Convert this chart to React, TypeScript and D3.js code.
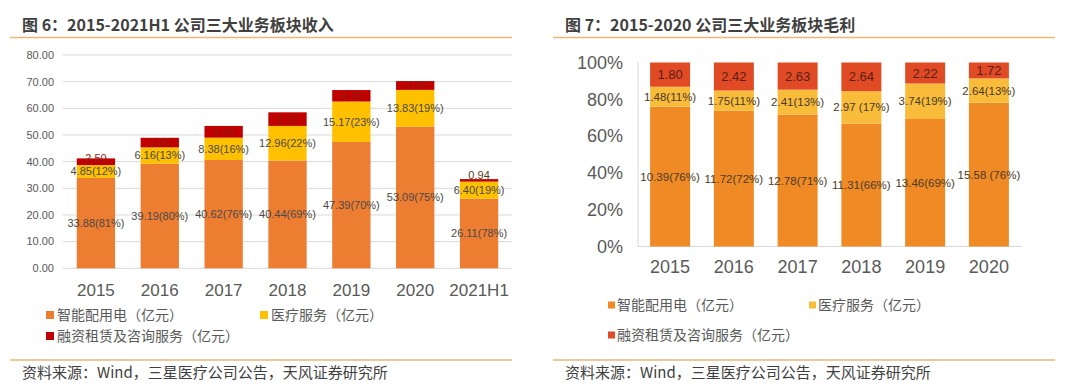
import React from "react";
import * as d3 from "d3";

// 图6：收入（亿元）
const revYears = ["2015", "2016", "2017", "2018", "2019", "2020", "2021H1"];
const revPower = [33.88, 39.19, 40.62, 40.44, 47.39, 53.09, 26.11];
const revMedical = [4.85, 6.16, 8.38, 12.96, 15.17, 13.83, 6.4];
const revLease = [2.5, 3.6, 4.4, 5.1, 4.3, 3.3, 0.94];
const revPowerLabels = ["33.88(81%)", "39.19(80%)", "40.62(76%)", "40.44(69%)", "47.39(70%)", "53.09(75%)", "26.11(78%)"];
const revMedicalLabels = ["4.85(12%)", "6.16(13%)", "8.38(16%)", "12.96(22%)", "15.17(23%)", "13.83(19%)", "6.40(19%)"];
const revTicks = [0, 10, 20, 30, 40, 50, 60, 70, 80];

// 图7：毛利（亿元）
const gpYears = ["2015", "2016", "2017", "2018", "2019", "2020"];
const gpPower = [10.39, 11.72, 12.78, 11.31, 13.46, 15.58];
const gpMedical = [1.48, 1.75, 2.41, 2.97, 3.74, 2.64];
const gpLease = [1.8, 2.42, 2.63, 2.64, 2.22, 1.72];
const gpPowerLabels = ["10.39(76%)", "11.72(72%)", "12.78(71%)", "11.31(66%)", "13.46(69%)", "15.58 (76%)"];
const gpMedicalLabels = ["1.48(11%)", "1.75(11%)", "2.41(13%)", "2.97 (17%)", "3.74(19%)", "2.64(13%)"];
const gpTicks = [0, 0.2, 0.4, 0.6, 0.8, 1];

const seriesNames = ["智能配用电（亿元）", "医疗服务（亿元）", "融资租赁及咨询服务（亿元）"];

const FONT = "'Liberation Sans', Arial, 'Noto Sans CJK SC', sans-serif";
const CJK = "'Noto Sans CJK SC', 'Liberation Sans', sans-serif";
const GREY = "#595959";
const LINE = "#e9b877";

function Frame({ x0, x1, title }: { x0: number; x1: number; title: string }) {
  return (
    <g>
      <text x={x0 + 12} y={31} fontFamily={CJK} fontWeight={700} fontSize={16} fill="#404040">{title}</text>
      <line x1={x0} x2={x1} y1={37.5} y2={37.5} stroke={LINE} strokeWidth={1.5} />
      <line x1={x0} x2={x1} y1={360} y2={360} stroke={LINE} strokeWidth={1.5} />
      <text x={x0 + 12} y={378} fontFamily={CJK} fontSize={15} fill="#404040">资料来源：Wind，三星医疗公司公告，天风证券研究所</text>
    </g>
  );
}

function RevenueChart() {
  const colors = ["#ed7d31", "#ffc000", "#c00000"];
  const x = d3.scaleBand().domain(revYears).range([64, 511]).paddingInner(0.4).paddingOuter(0.2);
  const y = d3.scaleLinear().domain([0, 80]).range([268.3, 55]);
  const rows = revYears.map((year, i) => ({ year, power: revPower[i], medical: revMedical[i], lease: revLease[i] }));
  const stacked = d3.stack<any>().keys(["power", "medical", "lease"])(rows);

  return (
    <g>
      <Frame x0={10} x1={512} title="图 6：2015-2021H1 公司三大业务板块收入" />
      {revTicks.map(t => (
        <g key={t}>
          <line x1={63} x2={512} y1={y(t)} y2={y(t)} stroke="#d9d9d9" strokeWidth={1} />
          <text x={54} y={y(t)} dy="0.35em" textAnchor="end" fontFamily={FONT} fontSize={11} fill={GREY}>{t.toFixed(2)}</text>
        </g>
      ))}
      {stacked.map((layer, si) =>
        layer.map((d, i) => (
          <rect key={`${si}-${i}`} x={x(revYears[i])} width={x.bandwidth()} y={y(d[1])} height={y(d[0]) - y(d[1])} fill={colors[si]} />
        ))
      )}
      {stacked.map((layer, si) =>
        layer.map((d, i) => {
          const cx = (x(revYears[i]) as number) + x.bandwidth() / 2;
          let cy = y((d[0] + d[1]) / 2);
          // very thin top segments: lift the label clear of the one below
          if (si === 2 && y(d[0]) - y(d[1]) < 8) cy = y(d[0]) - 6.5;
          const label = si === 0 ? revPowerLabels[i] : si === 1 ? revMedicalLabels[i] : revLease[i].toFixed(2);
          const fill = si === 2 ? (i === 6 ? "#5a3a20" : "#9a1a10") : "#4a4a4a";
          return (
            <text key={`l${si}-${i}`} x={cx} y={cy} dy="0.35em" textAnchor="middle" fontFamily={FONT} fontSize={11} fill={fill}>{label}</text>
          );
        })
      )}
      {revYears.map(yr => (
        <text key={yr} x={(x(yr) as number) + x.bandwidth() / 2} y={296} textAnchor="middle" fontFamily={FONT} fontSize={17} fill={GREY}>{yr}</text>
      ))}
      {[
        { tx: 46, ty: 315 },
        { tx: 260, ty: 315 },
        { tx: 46, ty: 336 },
      ].map((p, i) => (
        <g key={i}>
          <rect x={p.tx} y={p.ty - 4} width={8} height={8} fill={colors[i]} />
          <text x={p.tx + 11} y={p.ty} dy="0.35em" fontFamily={CJK} fontSize={14} fill={GREY}>{seriesNames[i]}</text>
        </g>
      ))}
    </g>
  );
}

function MarginChart() {
  const colors = ["#f08a24", "#f9bc3a", "#e04a25"];
  const x = d3.scaleBand().domain(gpYears).range([638, 1021]).paddingInner(0.373).paddingOuter(0.19);
  const y = d3.scaleLinear().domain([0, 1]).range([246.5, 62.5]);
  const rows = gpYears.map((year, i) => {
    const total = gpPower[i] + gpMedical[i] + gpLease[i];
    return { year, power: gpPower[i] / total, medical: gpMedical[i] / total, lease: gpLease[i] / total };
  });
  const stacked = d3.stack<any>().keys(["power", "medical", "lease"])(rows);

  return (
    <g>
      <Frame x0={553} x1={1055} title="图 7：2015-2020 公司三大业务板块毛利" />
      {gpTicks.map(t => (
        <text key={t} x={623} y={y(t)} dy="0.35em" textAnchor="end" fontFamily={FONT} fontSize={18} fill={GREY}>{d3.format(".0%")(t)}</text>
      ))}
      <line x1={638} x2={638} y1={62} y2={246.5} stroke="#d9d9d9" />
      <line x1={638} x2={1022} y1={246.5} y2={246.5} stroke="#d9d9d9" />
      {stacked.map((layer, si) =>
        layer.map((d, i) => (
          <rect key={`${si}-${i}`} x={x(gpYears[i])} width={x.bandwidth()} y={y(d[1])} height={y(d[0]) - y(d[1])} fill={colors[si]} />
        ))
      )}
      {stacked.map((layer, si) =>
        layer.map((d, i) => {
          const cx = (x(gpYears[i]) as number) + x.bandwidth() / 2;
          const cy = y((d[0] + d[1]) / 2);
          const label = si === 0 ? gpPowerLabels[i] : si === 1 ? gpMedicalLabels[i] : gpLease[i].toFixed(2);
          return (
            <text key={`l${si}-${i}`} x={cx} y={cy} dy="0.35em" textAnchor="middle" fontFamily={FONT} fontSize={si === 2 ? 13 : 11.5} fill={si === 2 ? "#5a1e12" : "#4a3a2a"}>{label}</text>
          );
        })
      )}
      {gpYears.map(yr => (
        <text key={yr} x={(x(yr) as number) + x.bandwidth() / 2} y={273} textAnchor="middle" fontFamily={FONT} fontSize={18} fill={GREY}>{yr}</text>
      ))}
      {[
        { tx: 608, ty: 305 },
        { tx: 809, ty: 305 },
        { tx: 608, ty: 335 },
      ].map((p, i) => (
        <g key={i}>
          <rect x={p.tx} y={p.ty - 3.5} width={7} height={7} fill={colors[i]} />
          <text x={p.tx + 9} y={p.ty} dy="0.35em" fontFamily={CJK} fontSize={14} fill={GREY}>{seriesNames[i]}</text>
        </g>
      ))}
    </g>
  );
}

export default function App() {
  return (
    <svg width={1080} height={387} style={{ position: "absolute", left: 0, top: 0, background: "#fff" }}>
      <rect width={1080} height={387} fill="#fff" />
      <RevenueChart />
      <MarginChart />
    </svg>
  );
}
